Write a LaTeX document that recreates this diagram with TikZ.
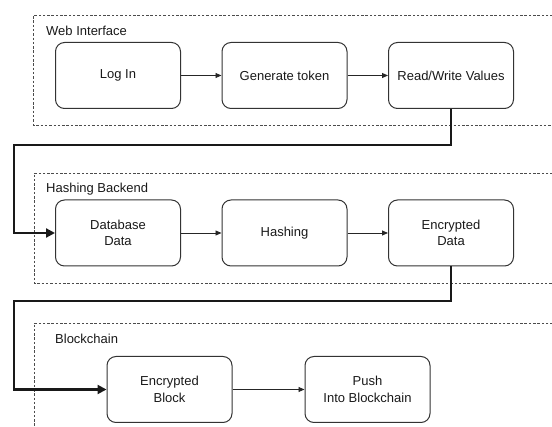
\documentclass[tikz,border=0pt]{standalone}
\usepackage{fontspec}
\setmainfont{Liberation Sans}
\usetikzlibrary{arrows.meta}
\begin{document}
\begin{tikzpicture}[x=1pt,y=-1pt,
  box/.style={draw=black!80,line width=1pt,rounded corners=9pt,minimum width=125pt,minimum height=66pt,align=center,font=\fontsize{13}{16.5}\selectfont,text=black!90,inner sep=2pt},
  group/.style={draw=black!70,line width=0.8pt,dash pattern=on 2.5pt off 1.8pt},
  glabel/.style={anchor=west,font=\fontsize{13}{15}\selectfont,text=black!90,inner sep=0pt},
  flow/.style={draw=black!85,line width=0.9pt,-{Triangle[length=6pt,width=5pt]}},
  link/.style={draw=black!90,line width=2.2pt,-{Triangle[length=9pt,width=9pt]}}]
\useasboundingbox (0,0) rectangle (552,427);
\clip (0,0) rectangle (552,427);
% containers
\draw[group] (600,15) -- (33.5,15) -- (33.5,125) -- (600,125);
\draw[group] (600,173) -- (34,173) -- (34,283) -- (600,283);
\draw[group] (600,323) -- (34,323) -- (34,440);
\node[glabel] (lw) at (46,31) {Web Interface};
\node[glabel] (lh) at (46,189) {Hashing Backend};
\node[glabel] (lb) at (55,339) {Blockchain};
% row 1
\node[box] (login) at (118,75.5) {Log In};
\node[box] (gen) at (284.5,75.5) {Generate token};
\node[box] (rw) at (451,75.5) {Read/Write Values};
% row 2
\node[box] (db) at (118,233) {Database\\Data};
\node[box] (hash) at (284.5,233) {Hashing};
\node[box] (enc) at (451,233) {Encrypted\\Data};
% row 3
\node[box] (eb) at (169.5,389.5) {Encrypted\\Block};
\node[box] (push) at (367.5,389.5) {Push\\Into Blockchain};
% flows
\draw[flow] (login) -- (gen);
\draw[flow] (gen) -- (rw);
\draw[flow] (db) -- (hash);
\draw[flow] (hash) -- (enc);
\draw[flow] (eb) -- (push);
% links
\coordinate (k1) at (14,145);
\coordinate (k2) at (14,301);
\draw[link] (rw.south) |- (k1) |- (db.west);
\draw[link] (enc.south) |- (k2) |- (eb.west);
\end{tikzpicture}
\end{document}
